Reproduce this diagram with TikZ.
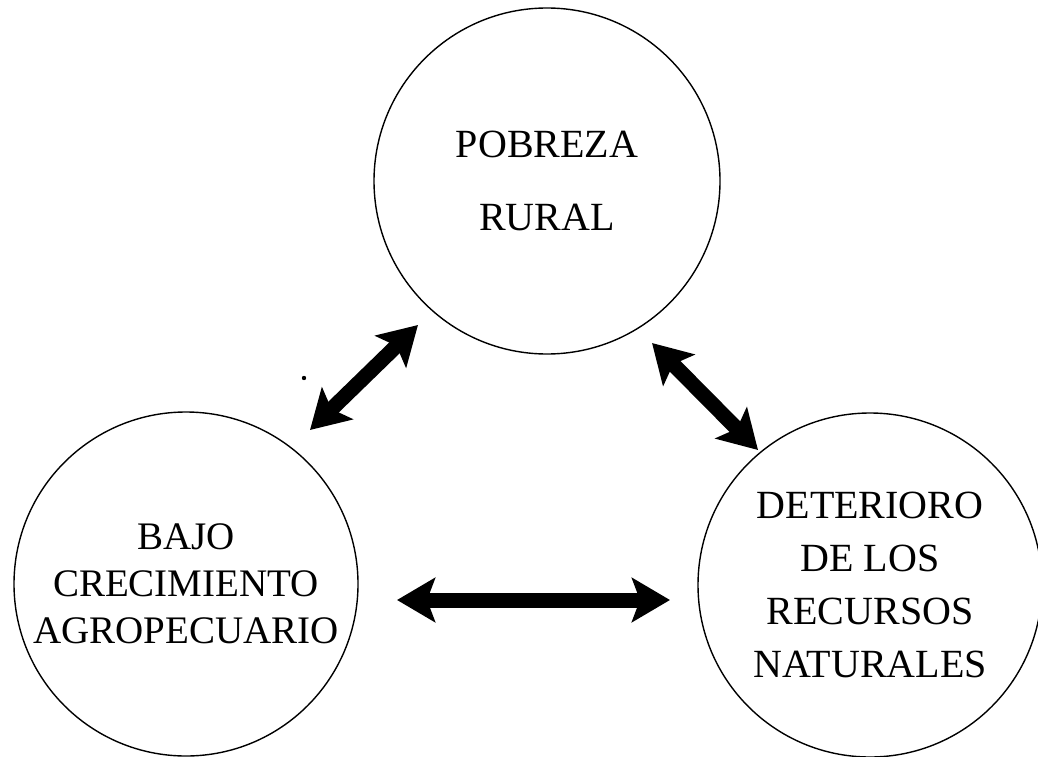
\documentclass[tikz,border=0pt]{standalone}
\usepackage{fontspec}
\setmainfont{Liberation Serif}
\usetikzlibrary{arrows.meta}
\tikzset{
  issue/.style={draw, circle, line width=1.4pt, inner sep=0pt, align=center},
  link/.style={line width=15pt, {Stealth[length=38pt, width=44pt, inset=8pt]}-{Stealth[length=38pt, width=44pt, inset=8pt]}}
}
\begin{document}
\begin{tikzpicture}[x=1pt, y=-1pt]
      \useasboundingbox (0,0) rectangle (1038,757);
      \draw
        (547,181) node[issue, minimum size=346pt,
          font=\fontsize{40}{73}\selectfont] (pobreza){POBREZA\\RURAL}
        (186,584) node[issue, minimum size=344pt,
          font=\fontsize{39}{47}\selectfont] (bajo){BAJO\\CRECIMIENTO\\AGROPECUARIO}
        (870,585) node[issue, minimum size=344pt,
          font=\fontsize{40}{53}\selectfont] (deterioro){DETERIORO\\DE LOS\\RECURSOS\\NATURALES};
      \coordinate (p1) at (418,325);
      \coordinate (b1) at (310,430);
      \coordinate (p2) at (652,343);
      \coordinate (d2) at (758,450);
      \coordinate (b3) at (397,600);
      \coordinate (d3) at (670,600);
      \begin{scope}[link]
        \draw (p1) to (b1);
        \draw (p2) to (d2);
        \draw (b3) to (d3);
      \end{scope}
      \fill (304,378) circle (2.2pt);
    \end{tikzpicture}
\end{document}
